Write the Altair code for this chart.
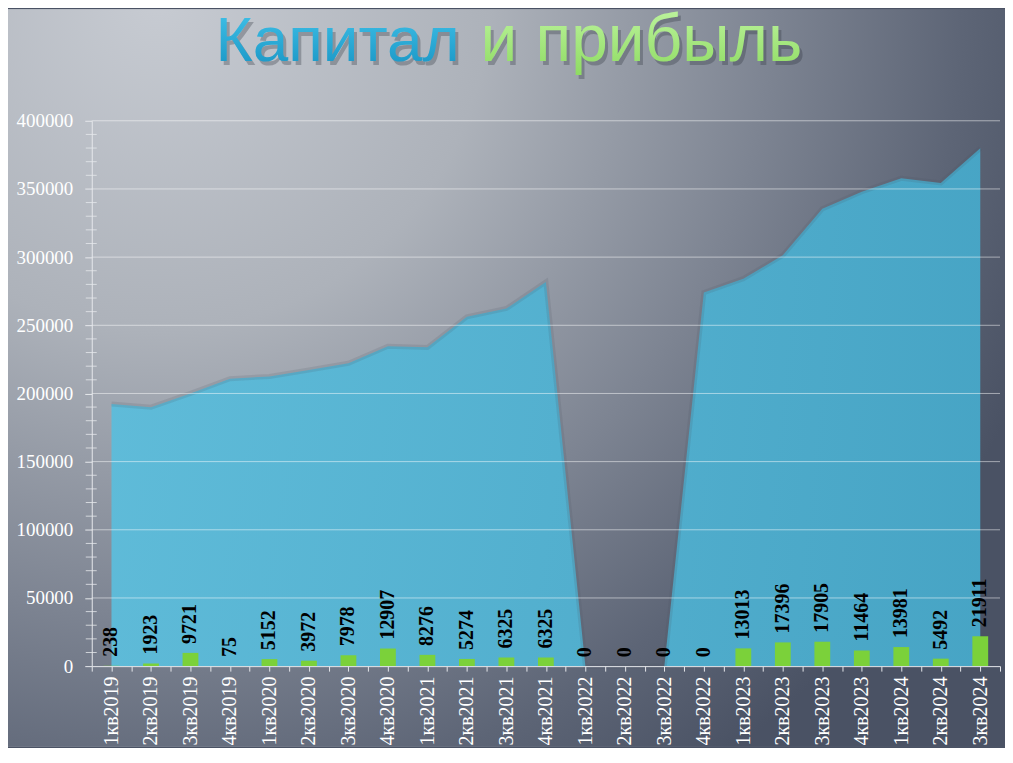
import json
import altair as alt
import pandas as pd

quarters = ["1кв2019", "2кв2019", "3кв2019", "4кв2019",
            "1кв2020", "2кв2020", "3кв2020", "4кв2020",
            "1кв2021", "2кв2021", "3кв2021", "4кв2021",
            "1кв2022", "2кв2022", "3кв2022", "4кв2022",
            "1кв2023", "2кв2023", "3кв2023", "4кв2023",
            "1кв2024", "2кв2024", "3кв2024"]
capital = [192300, 189900, 200000, 210800, 212500, 217200, 222100, 234600, 233800,
           256200, 262300, 281800, 0, 0, 0, 274000, 284200, 301300, 335400, 348000,
           357800, 354400, 379800]
profit = [238, 1923, 9721, 75, 5152, 3972, 7978, 12907, 8276, 5274, 6325, 6325,
          0, 0, 0, 0, 13013, 17396, 17905, 11464, 13981, 5492, 21911]
y_major = [0, 50000, 100000, 150000, 200000, 250000, 300000, 350000, 400000]
y_minor_step = 10000

title_left = "Капитал"
title_right = "и прибыль"

# geometry (canvas)
PAD_L, PAD_T = 84, 112
PLOT_W, PLOT_H = 911, 547
CANVAS_W, CANVAS_H = 1000, 740
PAD_R = CANVAS_W - PAD_L - PLOT_W
PAD_B = CANVAS_H - PAD_T - PLOT_H

df = pd.DataFrame({"idx": list(range(len(quarters))), "quarter": quarters,
                   "capital": capital, "profit": profit})
grid_df = pd.DataFrame({"v": y_major[1:]})
minor_df = pd.DataFrame({"v": [v for v in range(y_minor_step, y_major[-1], y_minor_step)
                               if v % 50000 != 0]})
one = pd.DataFrame({"a": [0]})

xscale = alt.Scale(domain=[-0.5, len(quarters) - 0.5], nice=False, zero=False, padding=0)
yscale = alt.Scale(domain=[0, 400000], nice=False, padding=0)

labels_js = json.dumps(quarters, ensure_ascii=False)
x_ticks = [i * 0.5 - 0.5 for i in range(2 * len(quarters) + 1)]

serif = "Liberation Serif"
sans = "Liberation Sans"

xaxis = alt.Axis(values=x_ticks, grid=False, zindex=1,
                 labelExpr=f"datum.value == floor(datum.value) ? {labels_js}[datum.value] : ''",
                 labelAngle=270, labelFont=serif, labelFontSize=20,
                 labelColor="#ffffff", labelPadding=5, labelOverlap=False,
                 labelFlush=False, labelBound=False,
                 tickSize=5, tickColor="#e6e8ec", domainColor="#e6e8ec",
                 title=None)
yaxis = alt.Axis(values=y_major, format="d", grid=False, zindex=1,
                 labelFont=serif, labelFontSize=19, labelColor="#ffffff",
                 labelPadding=12, tickSize=7, tickColor="#e6e8ec",
                 domainColor="#e6e8ec", title=None)


def X(field):
    return alt.X(field, scale=xscale, axis=xaxis, title=None)


def Y(field):
    return alt.Y(field, scale=yscale, axis=yaxis, title=None)


bg = alt.Chart(one).mark_rect(
    fill={"gradient": "radial", "x1": 0.15, "y1": 0.12, "r1": 0.0,
          "x2": 0.15, "y2": 0.12, "r2": 0.95,
          "stops": [{"offset": 0.0, "color": "#c7cbd2"},
                    {"offset": 0.35, "color": "#adb2ba"},
                    {"offset": 0.65, "color": "#7d8492"},
                    {"offset": 0.85, "color": "#5d6576"},
                    {"offset": 1.0, "color": "#4a5264"}]}
).encode(x=alt.value(-PAD_L), x2=alt.value(PLOT_W + PAD_R),
         y=alt.value(-PAD_T), y2=alt.value(PLOT_H + PAD_B))

base = alt.Chart(df)

area = base.mark_area(
    fill={"gradient": "linear", "x1": 0, "y1": 0, "x2": 1, "y2": 0,
          "stops": [{"offset": 0, "color": "#5dbcda"},
                    {"offset": 1, "color": "#47a7c8"}]},
    opacity=0.97
).encode(x=X("idx:Q"), y=Y("capital:Q"))

area_shadow = base.mark_line(color="#4b5260", opacity=0.15, strokeWidth=5).encode(
    x=X("idx:Q"), y=Y("capital:Q"))

grid = alt.Chart(grid_df).mark_rule(color="#ffffff", opacity=0.5, strokeWidth=1).encode(
    y=Y("v:Q"), x=alt.value(0), x2=alt.value(PLOT_W))

minor = alt.Chart(minor_df).mark_rule(color="#e6e8ec", strokeWidth=1, opacity=0.8).encode(
    y=Y("v:Q"), x=alt.value(-6), x2=alt.value(5))

bars = base.transform_calculate(
    x0="datum.idx - 0.2", x1="datum.idx + 0.2"
).mark_bar(color="#7bd13a", orient="vertical").encode(
    x=X("x0:Q"), x2="x1:Q", y=Y("profit:Q"), y2=alt.datum(0))

bar_labels = base.mark_text(angle=270, align="left", baseline="middle", dx=9,
                            font=serif, fontSize=20, fontWeight="bold",
                            color="#000000").encode(
    x=X("idx:Q"), y=Y("profit:Q"), text=alt.Text("profit:Q", format="d"))

TY = -60
tx_left = 369
tx_right = 390
FS_L, FS_R = 64, 66
title_sh1 = alt.Chart(one).mark_text(text=title_left, font=sans, fontSize=FS_L,
                                     align="right", baseline="alphabetic",
                                     color="#2a303a", opacity=0.3).encode(
    x=alt.value(tx_left + 3), y=alt.value(TY + 4))
title_sh2 = alt.Chart(one).mark_text(text=title_right, font=sans, fontSize=FS_R,
                                     align="left", baseline="alphabetic",
                                     color="#2a303a", opacity=0.3).encode(
    x=alt.value(tx_right + 3), y=alt.value(TY + 4))
title_l = alt.Chart(one).mark_text(
    text=title_left, font=sans, fontSize=FS_L, align="right", baseline="alphabetic",
    fill={"gradient": "linear", "x1": 0, "y1": 0, "x2": 0, "y2": 1,
          "stops": [{"offset": 0, "color": "#45c6ec"},
                    {"offset": 1, "color": "#1692c2"}]}
).encode(x=alt.value(tx_left), y=alt.value(TY))
title_r = alt.Chart(one).mark_text(
    text=title_right, font=sans, fontSize=FS_R, align="left", baseline="alphabetic",
    fill={"gradient": "linear", "x1": 0, "y1": 0, "x2": 0, "y2": 1,
          "stops": [{"offset": 0, "color": "#c2f6a4"},
                    {"offset": 1, "color": "#8edb62"}]}
).encode(x=alt.value(tx_right), y=alt.value(TY))

chart = alt.layer(
    bg, area, area_shadow, grid, minor, bars, bar_labels,
    title_sh1, title_sh2, title_l, title_r
).properties(
    width=PLOT_W, height=PLOT_H,
    autosize=alt.AutoSizeParams(type="none"),
    padding={"left": PAD_L, "top": PAD_T, "right": PAD_R, "bottom": PAD_B},
    background="#4a5264",
).configure_view(stroke=None)

chart.save("out.html", embed_options={"renderer": "svg", "actions": False})
